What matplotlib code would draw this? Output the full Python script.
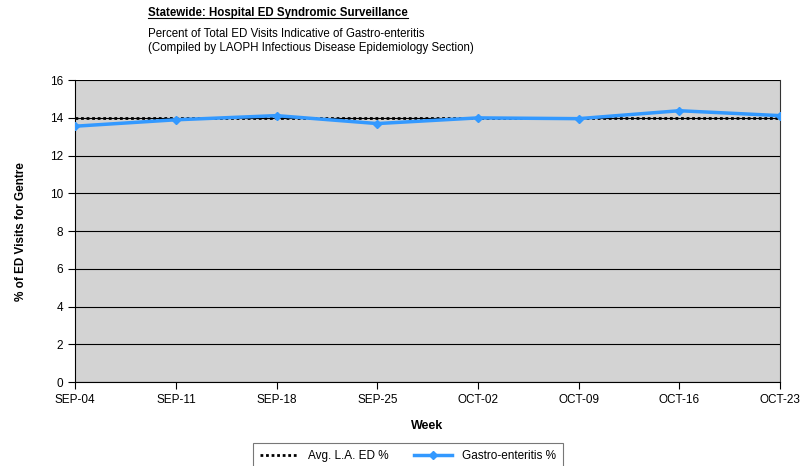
import matplotlib.pyplot as plt
import numpy as np

plt.rcParams['font.family'] = ['Liberation Sans', 'DejaVu Sans']

weeks = ["SEP-04", "SEP-11", "SEP-18", "SEP-25", "OCT-02", "OCT-09", "OCT-16", "OCT-23"]
gastro_pct = [13.56, 13.9, 14.12, 13.7, 14.0, 13.96, 14.38, 14.12]
avg_la_pct = [13.97] * len(weeks)
y_ticks = [0, 2, 4, 6, 8, 10, 12, 14, 16]


def main():
    fig = plt.figure(figsize=(8, 4.66), dpi=100)
    ax = fig.add_axes([0.094, 0.18, 0.881, 0.648])
    ax.set_facecolor('#d3d3d3')

    x = np.arange(len(weeks))
    ax.plot(x, avg_la_pct, color='black', linestyle=(0, (1, 1)), linewidth=2, label='Avg. L.A. ED %', zorder=3)
    ax.plot(x, gastro_pct, color='#3399ff', linewidth=2.5, marker='D', markersize=4,
            label='Gastro-enteritis %', zorder=4)

    ax.set_xlim(0, len(weeks) - 1)
    ax.set_ylim(0, 16)
    ax.set_yticks(y_ticks)
    ax.set_xticks(x, weeks)
    ax.tick_params(labelsize=8.5, length=5, color='black')
    ax.yaxis.grid(True, color='black', linewidth=0.8)
    ax.set_axisbelow(True)
    ax.spines['top'].set_visible(False)
    ax.spines['right'].set_color('#333333')

    ax.set_xlabel('Week', fontsize=9, fontweight='bold', labelpad=10)
    ax.set_ylabel('% of ED Visits for Gentre', fontsize=8.5, fontweight='bold', labelpad=17)

    t = fig.text(0.185, 0.972, 'Statewide: Hospital ED Syndromic Surveillance', fontsize=8.3,
                 fontweight='bold', ha='left', va='center')
    fig.canvas.draw()
    bb = t.get_window_extent().transformed(fig.transFigure.inverted())
    fig.add_artist(plt.Line2D([bb.x0, bb.x1], [bb.y0 + 0.002, bb.y0 + 0.002], color='black', linewidth=0.8))
    fig.text(0.185, 0.928, 'Percent of Total ED Visits Indicative of Gastro-enteritis', fontsize=8.3,
             ha='left', va='center')
    fig.text(0.185, 0.898, '(Compiled by LAOPH Infectious Disease Epidemiology Section)', fontsize=8.3,
             ha='left', va='center')

    leg = fig.legend(loc='lower center', bbox_to_anchor=(0.51, -0.02), ncol=2, fontsize=8.5,
                     frameon=True, fancybox=False, edgecolor='#555555', handlelength=3.2,
                     columnspacing=2.2, borderpad=0.6)
    leg.get_frame().set_linewidth(0.8)

    plt.savefig('out.png', dpi=100)


if __name__ == '__main__':
    main()
